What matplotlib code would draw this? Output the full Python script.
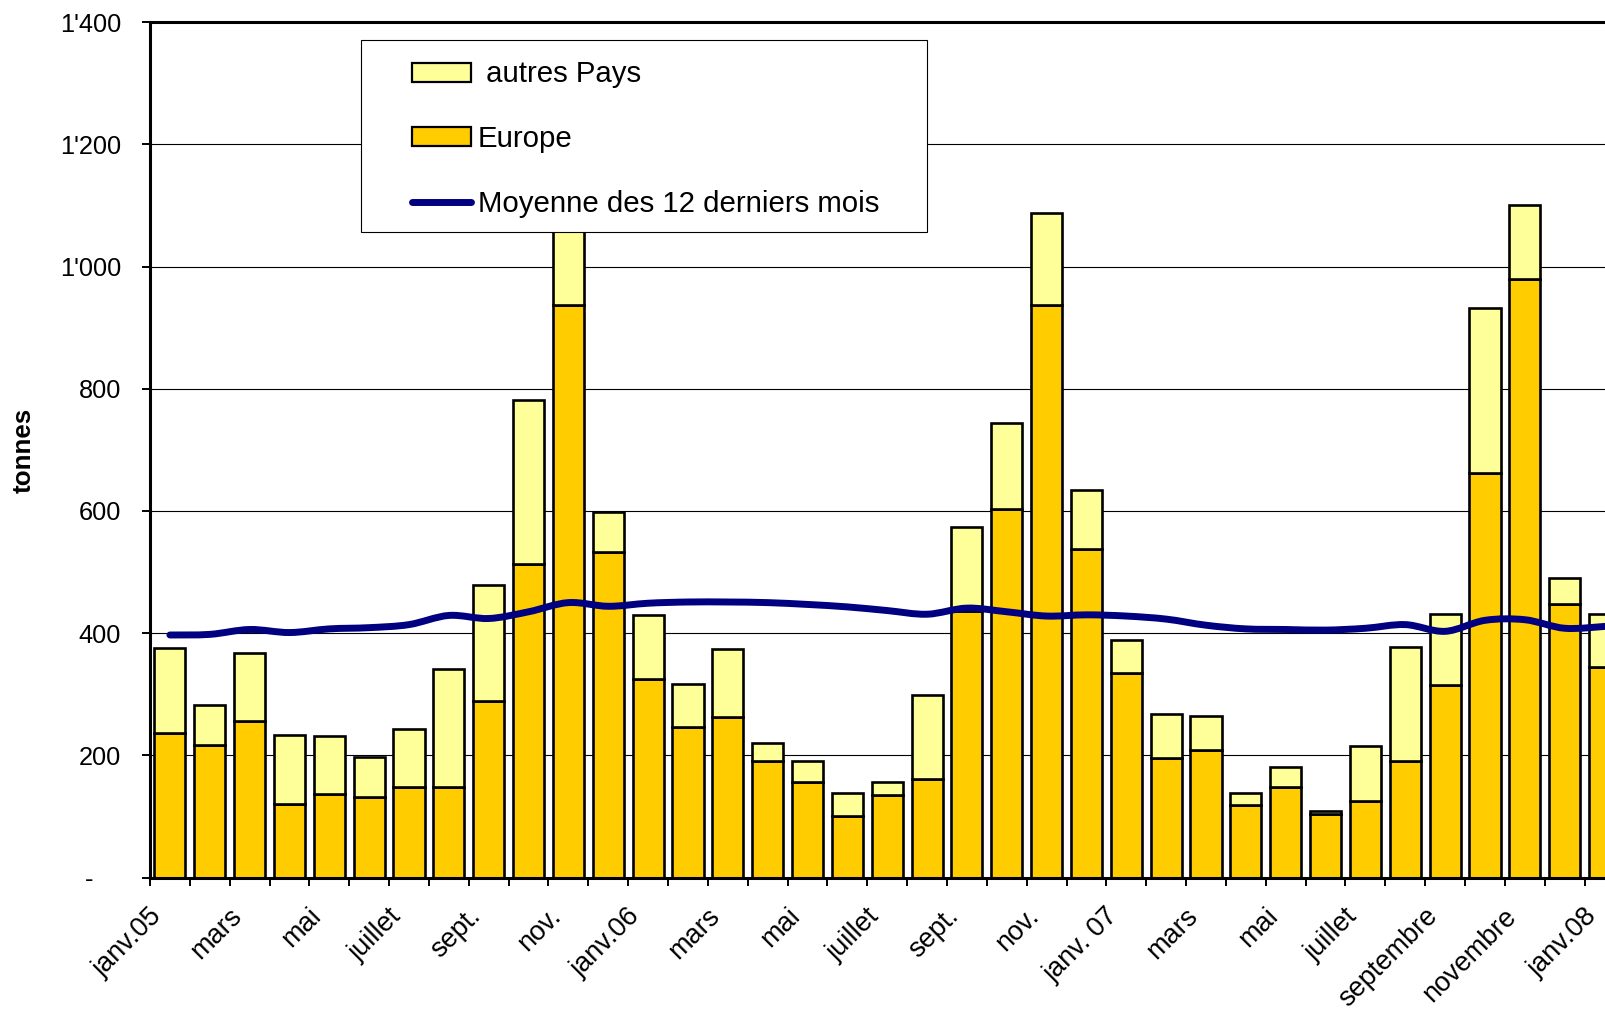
import numpy as np
import matplotlib
matplotlib.use("Agg")
from matplotlib import pyplot as plt
from matplotlib.patches import Patch, Rectangle, PathPatch
from matplotlib.path import Path
from matplotlib.lines import Line2D
from matplotlib.transforms import ScaledTranslation

plt.rcParams["font.family"] = ["Liberation Sans", "DejaVu Sans"]

# monthly imports (tonnes), janv.05 .. janv.08
europe = [237, 217, 256, 120, 136, 132, 148, 148, 289, 513, 938, 533,
          325, 247, 262, 190, 156, 100, 135, 162, 437, 603, 938, 538,
          335, 196, 209, 118, 148, 104, 125, 191, 315, 662, 980, 448, 344]
autres = [138, 66, 111, 113, 95, 66, 95, 194, 190, 268, 222, 65,
          104, 69, 112, 31, 34, 39, 21, 136, 137, 141, 150, 97,
          53, 71, 55, 21, 33, 5, 90, 187, 116, 271, 121, 43, 88]
moyenne = [397, 398, 406, 401, 407, 409, 414, 429, 424, 435, 450, 444,
           449, 451, 451, 450, 447, 443, 437, 431, 441, 435, 428, 430,
           428, 423, 413, 407, 406, 405, 408, 414, 403, 421, 422, 408, 411]
mois = ["janv.05", "mars", "mai", "juillet", "sept.", "nov.",
        "janv.06", "mars", "mai", "juillet", "sept.", "nov.",
        "janv. 07", "mars", "mai", "juillet", "septembre", "novembre",
        "janv.08"]
yticks = [0, 200, 400, 600, 800, 1000, 1200, 1400]
ylabels = ["-    ", "200", "400", "600", "800", "1'000", "1'200", "1'400"]

C_EUR = "#FFCC00"
C_AUT = "#FFFF99"
C_AVG = "#000080"

W, H = 1606, 1009
fig = plt.figure(figsize=(W / 100, H / 100), dpi=100)
step = 39.85
ax = fig.add_axes([150 / W, 1 - 877.5 / H, 37 * step / W, (877.5 - 22.3) / H])

x = np.arange(len(europe))
ax.bar(x, europe, width=0.78, color=C_EUR, edgecolor="black", linewidth=1.9, zorder=2)
ax.bar(x, autres, width=0.78, bottom=europe, color=C_AUT, edgecolor="black",
       linewidth=1.9, zorder=2)

# smoothed line (Excel style): bezier segments through the monthly points
pts = np.column_stack([x, moyenne]).astype(float)
verts = [pts[0]]
codes = [Path.MOVETO]
n = len(pts)
for i in range(n - 1):
    p0 = pts[max(i - 1, 0)]
    p1 = pts[i]
    p2 = pts[i + 1]
    p3 = pts[min(i + 2, n - 1)]
    verts += [p1 + (p2 - p0) / 6, p2 - (p3 - p1) / 6, p2]
    codes += [Path.CURVE4] * 3
ax.add_patch(PathPatch(Path(verts, codes), facecolor="none", edgecolor=C_AVG,
                       linewidth=5, capstyle="round", joinstyle="round", zorder=3))

ax.set_xlim(-0.5, 36.5)
ax.set_ylim(0, 1400)

ax.yaxis.grid(True, color="black", linewidth=0.8)
ax.set_axisbelow(True)
for s in ["left", "top", "bottom"]:
    ax.spines[s].set_linewidth(2.2)
ax.spines["right"].set_visible(False)

ax.set_yticks(yticks, ylabels)
ax.tick_params(axis="y", direction="out", length=5.8, width=1.4, labelsize=18.3, pad=15)

ax.set_xticks(np.arange(0, 37, 2), mois)
ax.set_xticks(np.arange(-0.5, 37, 1), minor=True)
ax.tick_params(axis="x", which="major", length=0, pad=18.5, labelsize=19.5)
ax.tick_params(axis="x", which="minor", direction="out", length=5.8, width=1.4)
off = ScaledTranslation(-21 / 100, 0, fig.dpi_scale_trans)
for lab in ax.get_xticklabels():
    lab.set_rotation(45)
    lab.set_ha("right")
    lab.set_va("top")
    lab.set_rotation_mode("anchor")
    lab.set_transform(lab.get_transform() + off)

fig.text(24 / W, 1 - 450 / H, "tonnes", rotation=90, ha="center", va="center",
         fontsize=18.7, fontweight="bold")

# legend box
frame = Rectangle((361 / W, 1 - 231.5 / H), (927 - 361) / W, (231.5 - 40) / H,
                  transform=fig.transFigure, facecolor="white", edgecolor="black",
                  linewidth=0.8, zorder=5)
fig.add_artist(frame)
handles = [Patch(facecolor=C_AUT, edgecolor="black", linewidth=1.6),
           Patch(facecolor=C_EUR, edgecolor="black", linewidth=1.6),
           Line2D([], [], color=C_AVG, linewidth=5, solid_capstyle="round")]
leg = fig.legend(handles, [" autres Pays", "Europe", "Moyenne des 12 derniers mois"],
                 loc="upper left", bbox_to_anchor=(412 / W, 1 - 60.5 / H),
                 bbox_transform=fig.transFigure, frameon=False, fontsize=21.2,
                 borderpad=0, borderaxespad=0, handlelength=2.0, handleheight=0.62,
                 handletextpad=0.24, labelspacing=1.25)
leg.set_zorder(6)

fig.savefig("out.png", dpi=100)
